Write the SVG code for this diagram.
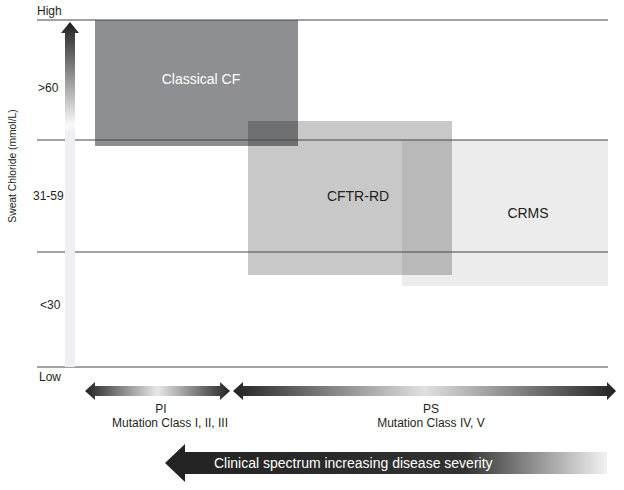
<svg xmlns="http://www.w3.org/2000/svg" width="624" height="490" viewBox="0 0 624 490">
<defs>
<style>
text{font-family:"Liberation Sans",Arial,sans-serif;fill:#231f20}
.ax{font-size:12px}
.lab{font-size:12px;text-anchor:middle}
.box{font-size:14px;text-anchor:middle}
.grid{stroke:#444;stroke-width:1}
</style>
<linearGradient id="gv" x1="0" y1="22" x2="0" y2="367" gradientUnits="userSpaceOnUse">
<stop offset="0" stop-color="#1e1e20"/>
<stop offset="0.3" stop-color="#fafafa"/>
<stop offset="0.32" stop-color="#efeff2"/>
<stop offset="1" stop-color="#efeff2"/>
</linearGradient>
<linearGradient id="gpi" x1="85" y1="0" x2="230" y2="0" gradientUnits="userSpaceOnUse">
<stop offset="0" stop-color="#222"/>
<stop offset="0.5" stop-color="#e8e8e8"/>
<stop offset="1" stop-color="#222"/>
</linearGradient>
<linearGradient id="gps" x1="233" y1="0" x2="616" y2="0" gradientUnits="userSpaceOnUse">
<stop offset="0" stop-color="#222"/>
<stop offset="0.5" stop-color="#e0e0e0"/>
<stop offset="1" stop-color="#222"/>
</linearGradient>
<linearGradient id="gbig" x1="165" y1="0" x2="607" y2="0" gradientUnits="userSpaceOnUse">
<stop offset="0" stop-color="#222"/>
<stop offset="0.68" stop-color="#333"/>
<stop offset="1" stop-color="#f2f2f2"/>
</linearGradient>
</defs>
<g id="crms">
<rect x="402" y="140" width="206" height="146" fill="#ececec"/>
<text x="528" y="218" class="box">CRMS</text>
</g>
<g id="classical-cf">
<rect x="95" y="20" width="203" height="126" fill="#8e8f92"/>
<text x="201" y="84" class="box" style="fill:#fff">Classical CF</text>
</g>
<g id="cftr-rd">
<rect x="248" y="121" width="204" height="154" fill="#000" fill-opacity="0.215"/>
<text x="358" y="201" class="box">CFTR-RD</text>
</g>
<g id="axis">
<line class="grid" x1="37" y1="20" x2="608" y2="20"/>
<line class="grid" x1="37" y1="140" x2="608" y2="140"/>
<line class="grid" x1="37" y1="252" x2="608" y2="252"/>
<line class="grid" x1="37" y1="367" x2="608" y2="367"/>
<polygon points="70,22 79,33 75,33 75,367 65,367 65,33 61,33" fill="url(#gv)"/>
<text x="37" y="15" class="ax">High</text>
<text x="38" y="92" class="ax">&gt;60</text>
<text x="33" y="200" class="ax">31-59</text>
<text x="40" y="309" class="ax">&lt;30</text>
<text x="39" y="381" class="ax">Low</text>
<text transform="translate(16,166) rotate(-90)" class="lab" style="font-size:10.3px">Sweat Chloride (mmol/L)</text>
</g>
<g id="pi">
<polygon points="85,391 95,382 95,386 220,386 220,382 230,391 220,400 220,396 95,396 95,400" fill="url(#gpi)"/>
<text x="161" y="413" class="lab">PI</text>
<text x="170" y="427" class="lab">Mutation Class I, II, III</text>
</g>
<g id="ps">
<polygon points="233,391 243,382 243,386 607,386 607,382 616,391 607,400 607,396 243,396 243,400" fill="url(#gps)"/>
<text x="431" y="413" class="lab">PS</text>
<text x="431" y="427" class="lab">Mutation Class IV, V</text>
</g>
<g id="severity">
<polygon points="165,463 185,444 185,452 607,452 607,474 185,474 185,482" fill="url(#gbig)"/>
<text x="214" y="468" style="font-size:14px;fill:#fff">Clinical spectrum increasing disease severity</text>
</g>
</svg>
